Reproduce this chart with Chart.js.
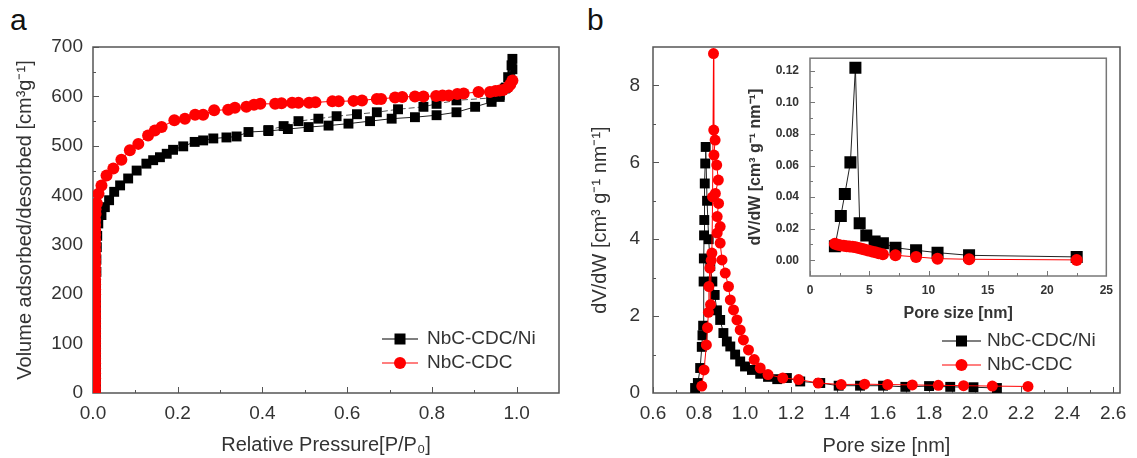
<!DOCTYPE html>
<html>
<head>
<meta charset="utf-8">
<script src="https://cdn.jsdelivr.net/npm/chart.js@4.4.0/dist/chart.umd.min.js"></script>
<style>
  body { margin: 0; background: #fff; width: 1137px; height: 458px; position: relative; overflow: hidden; font-family: "Liberation Sans", Arial, sans-serif; }
  canvas { position: absolute; }
  .letra { position: absolute; font-size: 30px; color: #111; }
</style>
</head>
<body>
<div class="letra" style="left:10px;top:3px">a</div>
<div class="letra" style="left:587px;top:3px">b</div>
<canvas id="graficoIsoterma" width="570" height="458" style="left:0;top:0"></canvas>
<canvas id="graficoPoros" width="557" height="458" style="left:580px;top:0"></canvas>
<canvas id="graficoInset" width="380" height="290" style="left:740px;top:40px"></canvas>
<script>
// ---- painel a: isoterma N2 ----
const isoCdcX = [0.005,0.005,0.005,0.005,0.005,0.005,0.005,0.005,0.005,0.005,0.005,0.005,0.005,0.005,0.005,0.005,0.005,0.005,0.005,0.005,
  0.005,0.005,0.005,0.005,0.005,0.005,0.005,0.005,0.005,0.005,0.005,0.005,0.005,0.005,0.005,0.005,0.006,0.006,
  0.009,0.013,0.02,0.032,0.048,0.067,0.087,0.107,0.13,0.146,0.162,0.192,0.217,0.241,0.26,0.286,0.319,0.335,0.362,0.38,
  0.395,0.43,0.445,0.47,0.485,0.51,0.525,0.565,0.58,0.615,0.635,0.67,0.68,0.713,0.73,0.76,0.78,0.81,0.825,0.84,
  0.86,0.875,0.91,0.937,0.95,0.96,0.968,0.98,0.985,0.99];
const isoCdcY = [0,10,20,30,40,50,60,70,80,90,100,110,120,130,140,150,160,170,180,190,
  200,210,220,230,240,250,260,270,280,290,300,310,320,330,340,350,362,372,
  384,403,420,440,454,472,491,504,521,531,538,552,555,563,563,572,573,577,579,583,
  585,585,586,587,587,587,588,590,590,591,592,595,595,598,599,600,600,601,602,602,
  605,606,609,609,611,612,613,619,624,632];

const isoNiAdsX = [0.007,0.007,0.007,0.007,0.007,0.007,0.007,0.007,0.007,0.007,0.007,0.007,0.008,0.008,0.009,0.01,
  0.0125,0.02,0.028,0.038,0.05,0.064,0.083,0.103,0.126,0.142,
  0.158,0.174,0.189,0.213,0.24,0.26,0.284,0.315,0.339,0.367,0.414,0.46,0.509,0.556,0.603,0.654,0.705,0.76,0.811,0.858,
  0.902,0.941,0.96,0.972,0.98,0.988];
const isoNiAdsY = [0,20,40,60,80,100,120,140,160,180,200,220,245,270,295,318,
  343,360,376,390,407,420,434,450,464,471,
  477,484,492,499,508,511,515,517,519,528,530,534,538,541,545,550,555,558,562,568,
  579,589,599,616,639,663];
const isoNiDesX = [0.99,0.99,0.985,0.975,0.96,0.94,0.858,0.811,0.78,0.72,0.67,0.623,0.575,0.532,0.485,0.45,0.414];
const isoNiDesY = [676,655,635,618,603,597,592,585,579,574,568,564,560,555,550,540,532];

const ticksIsoX = [0, 0.2, 0.4, 0.6, 0.8, 1.0];
const ticksIsoY = [0, 100, 200, 300, 400, 500, 600, 700];

// ---- painel b: distribuicao de poros ----
const psdCdcX = [0.812,0.822,0.832,0.837,0.841,0.843,0.847,0.85,0.853,0.856,0.859,0.863,0.864,0.87,0.865,0.877,0.884,0.871,0.885,0.879,
  0.892,0.879,0.892,0.9,0.914,0.928,0.936,0.95,0.965,0.979,0.993,1.015,1.04,1.066,1.1,1.164,1.233,1.318,1.418,1.52,
  1.62,1.727,1.84,1.95,2.075,2.23];
const psdCdcY = [0.18,0.6,1.25,1.7,2.1,2.77,3.25,2.3,3.45,3.64,5.1,8.83,6.84,6.58,6.19,5.93,5.54,5.19,4.93,4.59,
  4.33,4.16,3.9,3.46,3.12,2.77,2.42,2.16,1.9,1.64,1.38,1.12,0.87,0.65,0.48,0.39,0.35,0.26,0.22,0.23,
  0.22,0.21,0.2,0.19,0.18,0.17];
const psdNiX = [0.783,0.795,0.805,0.812,0.815,0.818,0.82,0.821,0.822,0.823,0.825,0.827,0.829,0.835,0.842,0.849,0.858,0.868,0.878,0.892,
  0.906,0.921,0.936,0.957,0.979,1.0,1.03,1.066,1.1,1.14,1.182,1.24,1.327,1.407,1.5,1.6,1.697,1.8,1.892,1.993,2.095];
const psdNiY = [0.13,0.26,0.65,1.2,1.5,1.75,2.9,3.5,4.1,4.5,5.45,5.97,6.4,5.0,4.0,3.3,2.9,2.55,2.15,1.9,
  1.56,1.34,1.21,1.0,0.82,0.69,0.6,0.5,0.42,0.36,0.39,0.3,0.26,0.19,0.19,0.19,0.16,0.18,0.16,0.15,0.13];

const ticksPsdX = [0.6, 0.8, 1.0, 1.2, 1.4, 1.6, 1.8, 2.0, 2.2, 2.4, 2.6];
const ticksPsdY = [0, 2, 4, 6, 8];

// ---- inset: poros maiores ----
const insNiX = [2.1, 2.6, 2.94, 3.41, 3.83, 4.19, 4.75, 5.45, 6.15, 7.21, 8.95, 10.76, 13.42, 22.5];
const insNiY = [0.0088, 0.028, 0.042, 0.062, 0.122, 0.0234, 0.0157, 0.0119, 0.0108, 0.0079, 0.0063, 0.0048, 0.0031, 0.0021];
const insCdcX = [2.1, 2.35, 2.6, 2.85, 3.1, 3.35, 3.6, 3.85, 4.1, 4.35, 4.6, 4.9, 5.2, 5.5, 5.8, 6.15, 7.21, 8.95, 10.76, 13.42, 22.5];
const insCdcY = [0.0105, 0.0098, 0.0094, 0.0091, 0.0089, 0.0087, 0.0085, 0.0082, 0.0077, 0.0073, 0.0068, 0.0062, 0.0056, 0.005, 0.0044, 0.0038, 0.0031, 0.0021, 0.001, 0.0006, 0.0002];

const ticksInsX = [0, 5, 10, 15, 20, 25];
const ticksInsY = [0, 0.02, 0.04, 0.06, 0.08, 0.10, 0.12];

const legendas = ['NbC-CDC/Ni', 'NbC-CDC'];

const VERMELHO = '#ff0000';
const PRETO = '#000000';
const TEXTO = '#333333';
const FAMILIA = '"Liberation Sans", Arial, sans-serif';

const pts = (xs, ys) => xs.map((x, i) => ({ x, y: ys[i] }));
const meios = arr => arr.slice(1).map((v, i) => (v + arr[i]) / 2);

// moldura + marcas para dentro
const moldura = {
  id: 'moldura',
  beforeDraw(chart, args, o) {
    if (!o.fundo) return;
    const { ctx, chartArea: a } = chart;
    ctx.save();
    ctx.fillStyle = o.fundo;
    ctx.fillRect(a.left, a.top, a.right - a.left, a.bottom - a.top);
    ctx.restore();
  },
  beforeDatasetsDraw(chart, args, o) {
    const { ctx, chartArea: a, scales: { x, y } } = chart;
    ctx.save();
    ctx.strokeStyle = o.cor;
    ctx.lineWidth = o.espessura;
    ctx.strokeRect(a.left, a.top, a.right - a.left, a.bottom - a.top);
    ctx.lineWidth = 1;
    ctx.beginPath();
    const marcaX = (v, len) => {
      const p = Math.round(x.getPixelForValue(v)) + 0.5;
      if (p < a.left || p > a.right) return;
      ctx.moveTo(p, a.bottom); ctx.lineTo(p, a.bottom - len);
    };
    const marcaY = (v, len) => {
      const p = Math.round(y.getPixelForValue(v)) + 0.5;
      if (p < a.top || p > a.bottom) return;
      ctx.moveTo(a.left, p); ctx.lineTo(a.left + len, p);
    };
    o.xMaior.forEach(v => marcaX(v, o.maior));
    meios(o.xMaior).forEach(v => marcaX(v, o.menor));
    o.yMaior.forEach(v => marcaY(v, o.maior));
    meios(o.yMaior).forEach(v => marcaY(v, o.menor));
    ctx.stroke();
    ctx.restore();
  }
};

// legenda desenhada dentro do grafico
const chave = {
  id: 'chave',
  afterDatasetsDraw(chart, args, o) {
    if (!o.itens) return;
    const ctx = chart.ctx;
    o.itens.forEach((it, i) => {
      const y = o.y + i * o.passo;
      const cx = o.x + o.comp / 2;
      ctx.save();
      ctx.strokeStyle = it.cor;
      ctx.lineWidth = 1.2;
      ctx.beginPath();
      ctx.moveTo(o.x, y);
      ctx.lineTo(o.x + o.comp, y);
      ctx.stroke();
      ctx.fillStyle = it.cor;
      if (it.forma === 'rect') {
        ctx.fillRect(cx - it.tam / 2, y - it.tam / 2, it.tam, it.tam);
      } else {
        ctx.beginPath();
        ctx.arc(cx, y, it.tam / 2, 0, Math.PI * 2);
        ctx.fill();
      }
      ctx.fillStyle = TEXTO;
      ctx.font = o.fonte;
      ctx.textBaseline = 'middle';
      ctx.fillText(it.texto, o.x + o.comp + o.gap, y);
      ctx.restore();
    });
  }
};

function escala(cfg) {
  return {
    type: 'linear',
    position: cfg.eixo === 'x' ? 'bottom' : 'left',
    min: cfg.min,
    max: cfg.max,
    grid: { display: false, drawTicks: false },
    border: { display: false },
    afterBuildTicks: s => { s.ticks = cfg.ticks.map(v => ({ value: v })); },
    afterFit: s => { if (cfg.eixo === 'x') s.height = cfg.tam; else s.width = cfg.tam; },
    ticks: { callback: v => cfg.fmt(v), font: cfg.fonteTick, color: TEXTO, padding: cfg.padTick, autoSkip: false, maxRotation: 0 },
    title: { display: true, text: cfg.titulo, font: cfg.fonteTitulo, color: TEXTO, padding: cfg.padTitulo }
  };
}

function serie(label, data, cor, forma, raio, extra) {
  return Object.assign({
    label, data, showLine: true,
    borderColor: cor, backgroundColor: cor, borderWidth: 1,
    pointStyle: forma, pointRadius: raio, pointBorderWidth: 0, pointHoverRadius: raio,
    tension: 0
  }, extra || {});
}

const base = {
  responsive: false,
  animation: false,
  events: [],
  plugins: { legend: { display: false }, tooltip: { enabled: false } }
};

const fTick = { family: FAMILIA, size: 19 };
const fTitulo = { family: FAMILIA, size: 20 };

// Grafico a - isoterma
function graficoIsoterma() {
  new Chart(document.getElementById('graficoIsoterma'), {
    type: 'scatter',
    data: {
      datasets: [
        serie(legendas[1], pts(isoCdcX, isoCdcY), VERMELHO, 'circle', 6),
        serie(legendas[0], pts(isoNiAdsX, isoNiAdsY), PRETO, 'rect', 7, { borderColor: '#222' }),
        serie(legendas[0], pts(isoNiDesX, isoNiDesY), PRETO, 'rect', 7, { borderColor: '#555', borderDash: [6, 3] })
      ]
    },
    options: Object.assign({}, base, {
      layout: { padding: { top: 47, right: 11, left: 0, bottom: 0 } },
      scales: {
        x: escala({ eixo: 'x', min: 0, max: 1.1, ticks: ticksIsoX, fmt: v => v.toFixed(1), tam: 65,
          titulo: 'Relative Pressure[P/P₀]', fonteTick: fTick, fonteTitulo: fTitulo, padTick: 9, padTitulo: { top: 0, bottom: 1 } }),
        y: escala({ eixo: 'y', min: 0, max: 700, ticks: ticksIsoY, fmt: v => String(v), tam: 93,
          titulo: 'Volume adsorbed/desorbed [cm³g⁻¹]', fonteTick: fTick, fonteTitulo: fTitulo, padTick: 10, padTitulo: { top: 13, bottom: 0 } })
      },
      plugins: Object.assign({}, base.plugins, {
        moldura: { cor: '#555', espessura: 1.5, xMaior: ticksIsoX, yMaior: ticksIsoY, maior: 6, menor: 3 },
        chave: { x: 382, y: 339, passo: 24, comp: 36, gap: 9, fonte: '19px ' + FAMILIA,
          itens: [
            { texto: legendas[0], cor: PRETO, forma: 'rect', tam: 11 },
            { texto: legendas[1], cor: VERMELHO, forma: 'circle', tam: 12 }
          ] }
      })
    }),
    plugins: [moldura, chave]
  });
}

// Grafico b - distribuicao de tamanho de poro
function graficoPoros() {
  new Chart(document.getElementById('graficoPoros'), {
    type: 'scatter',
    data: {
      datasets: [
        serie(legendas[1], pts(psdCdcX, psdCdcY), VERMELHO, 'circle', 5.5),
        serie(legendas[0], pts(psdNiX, psdNiY), PRETO, 'rect', 7, { borderColor: '#222' })
      ]
    },
    options: Object.assign({}, base, {
      layout: { padding: { top: 47, right: 17, left: 0, bottom: 0 } },
      scales: {
        x: escala({ eixo: 'x', min: 0.6, max: 2.63, ticks: ticksPsdX, fmt: v => v.toFixed(1), tam: 65,
          titulo: 'Pore size [nm]', fonteTick: fTick, fonteTitulo: fTitulo, padTick: 9, padTitulo: { top: 0, bottom: 0 } }),
        y: escala({ eixo: 'y', min: 0, max: 9, ticks: ticksPsdY, fmt: v => String(v), tam: 73,
          titulo: 'dV/dW [cm³ g⁻¹ nm⁻¹]', fonteTick: fTick, fonteTitulo: fTitulo, padTick: 13, padTitulo: { top: 8, bottom: 0 } })
      },
      plugins: Object.assign({}, base.plugins, {
        moldura: { cor: '#555', espessura: 1.5, xMaior: ticksPsdX, yMaior: ticksPsdY, maior: 6, menor: 3 },
        chave: { x: 362, y: 341, passo: 24, comp: 39, gap: 6, fonte: '19px ' + FAMILIA,
          itens: [
            { texto: legendas[0], cor: PRETO, forma: 'rect', tam: 11 },
            { texto: legendas[1], cor: VERMELHO, forma: 'circle', tam: 12 }
          ] }
      })
    }),
    plugins: [moldura, chave]
  });
}

// Inset - poros de 2 a 25 nm
function graficoInset() {
  const fTickB = { family: FAMILIA, size: 12, weight: 'bold' };
  const fTituloB = { family: FAMILIA, size: 16, weight: 'bold' };
  new Chart(document.getElementById('graficoInset'), {
    type: 'scatter',
    data: {
      datasets: [
        serie(legendas[1], pts(insCdcX, insCdcY), VERMELHO, 'circle', 6),
        serie(legendas[0], pts(insNiX, insNiY), PRETO, 'rect', 8.5, { borderColor: '#222' })
      ]
    },
    options: Object.assign({}, base, {
      layout: { padding: { top: 15, right: 12, left: 0, bottom: 0 } },
      scales: {
        x: escala({ eixo: 'x', min: 0, max: 25, ticks: ticksInsX, fmt: v => String(v), tam: 54,
          titulo: 'Pore size [nm]', fonteTick: fTickB, fonteTitulo: fTituloB, padTick: 7, padTitulo: { top: 0, bottom: 7 } }),
        y: escala({ eixo: 'y', min: -0.01, max: 0.128, ticks: ticksInsY, fmt: v => v.toFixed(2), tam: 70,
          titulo: 'dV/dW [cm³ g⁻¹ nm⁻¹]', fonteTick: fTickB, fonteTitulo: fTituloB, padTick: 11, padTitulo: { top: 6, bottom: 0 } })
      },
      plugins: Object.assign({}, base.plugins, {
        moldura: { cor: '#777', espessura: 1.5, fundo: '#ffffff', xMaior: ticksInsX, yMaior: ticksInsY, maior: 5, menor: 3 },
        chave: {}
      })
    }),
    plugins: [moldura, chave]
  });
}

graficoIsoterma();
graficoPoros();
graficoInset();
</script>
</body>
</html>
